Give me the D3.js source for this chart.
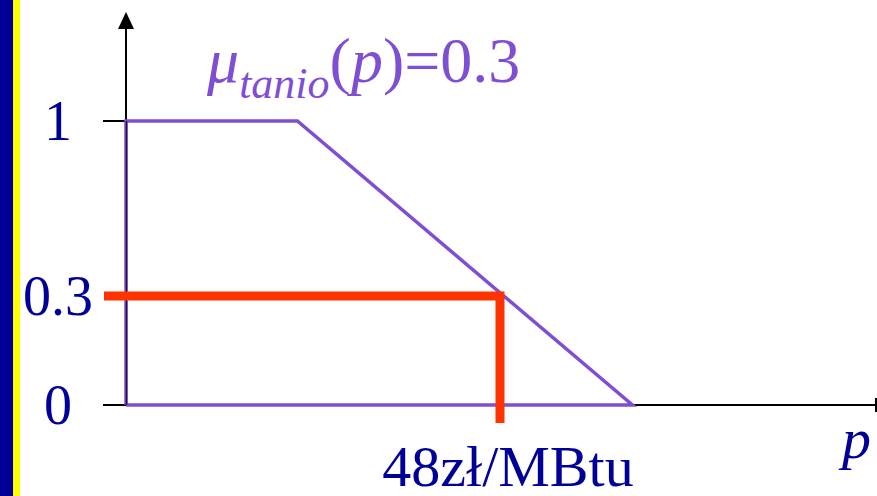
<!DOCTYPE html>
<html>
<head>
<meta charset="utf-8">
<script src="https://cdn.jsdelivr.net/npm/d3@7"></script>
<style>
  body { margin: 0; background: #fff; }
  svg { display: block; }
</style>
</head>
<body>
<div id="chart"></div>
<script>
// membership function "tanio" (cheap), trapezoid shoulder
const shapeP  = [0, 0, 22, 65, 0];
const shapeMu = [0, 1, 1, 0, 0];
const cutP = 48;
const cutMu = 0.384;          // drawn level of the 0.3 cut
const yTickVals   = [0, cutMu, 1];
const yTickLabels = ["0", "0.3", "1"];
const xLabel = "48zł/MBtu";

const W = 877, H = 496;
const navy = "#000099", purple = "#7f4fd3", red = "#ff3300";

const svg = d3.select("#chart").append("svg").attr("width", W).attr("height", H);

// slide edge stripes
svg.append("rect").attr("x", 0).attr("y", 0).attr("width", 13).attr("height", H).attr("fill", "#000099");
svg.append("rect").attr("x", 13).attr("y", 0).attr("width", 7).attr("height", H).attr("fill", "#ffff00");

var x = d3.scaleLinear().domain([0, 96]).range([126, 874]);
var y = d3.scaleLinear().domain([0, 1]).range([405, 121]);

// axes
svg.append("line").attr("x1", 103).attr("x2", 876).attr("y1", y(0)).attr("y2", y(0))
  .attr("stroke", "black").attr("stroke-width", 2);
svg.append("line").attr("x1", 876).attr("x2", 876).attr("y1", y(0) - 7).attr("y2", y(0) + 7)
  .attr("stroke", "black").attr("stroke-width", 2);
svg.append("line").attr("x1", x(0)).attr("x2", x(0)).attr("y1", y(0)).attr("y2", 28)
  .attr("stroke", "black").attr("stroke-width", 2);
svg.append("path").attr("d", `M${x(0)},12 L${x(0) - 8},29 L${x(0) + 8},29 Z`).attr("fill", "black");

// ticks on y axis
svg.selectAll("ytick")
  .data([0, 1])
  .enter()
  .append("line")
    .attr("x1", 103).attr("x2", x(0))
    .attr("y1", d => y(d)).attr("y2", d => y(d))
    .attr("stroke", "black").attr("stroke-width", 2);

svg.selectAll("ylab")
  .data(yTickVals)
  .enter()
  .append("text")
    .attr("x", 58)
    .attr("y", d => y(d) + 19)
    .attr("text-anchor", "middle")
    .attr("font-family", "Liberation Serif")
    .attr("font-size", "56px")
    .attr("fill", navy)
    .text((d, i) => yTickLabels[i]);

// membership function
var line = d3.line().x(d => x(d[0])).y(d => y(d[1]));
svg.append("path")
  .datum(shapeP.map((p, i) => [p, shapeMu[i]]))
  .attr("d", line)
  .attr("fill", "none")
  .attr("stroke", purple)
  .attr("stroke-width", 3.5);

// redraw y axis over purple edge
svg.append("line").attr("x1", x(0) + 0.5).attr("x2", x(0) + 0.5).attr("y1", y(0)).attr("y2", y(1))
  .attr("stroke", "#221133").attr("stroke-width", 1.5);

// cut at 0.3
svg.append("path")
  .attr("d", `M104,${y(cutMu)} H${x(cutP)} V${y(0) + 18}`)
  .attr("fill", "none")
  .attr("stroke", red)
  .attr("stroke-width", 9)
  .attr("stroke-linejoin", "miter");

// labels
svg.append("text")
  .attr("x", x(cutP) + 8).attr("y", 486)
  .attr("text-anchor", "middle")
  .attr("font-family", "Liberation Serif").attr("font-size", "58px")
  .attr("fill", navy)
  .text(xLabel);

svg.append("text")
  .attr("x", 842).attr("y", 458)
  .attr("font-family", "Liberation Serif").attr("font-size", "58px")
  .attr("font-style", "italic")
  .attr("fill", navy)
  .text("p");

var title = svg.append("text")
  .attr("x", 207).attr("y", 82)
  .attr("font-family", "Liberation Serif").attr("font-size", "64px")
  .attr("fill", purple);
title.append("tspan").attr("font-style", "italic").text("μ");
title.append("tspan").attr("font-style", "italic").attr("font-size", "44px").attr("dy", 16).text("tanio");
title.append("tspan").attr("dy", -16).text("(");
title.append("tspan").attr("font-style", "italic").text("p");
title.append("tspan").text(")=0.3");
</script>
</body>
</html>
